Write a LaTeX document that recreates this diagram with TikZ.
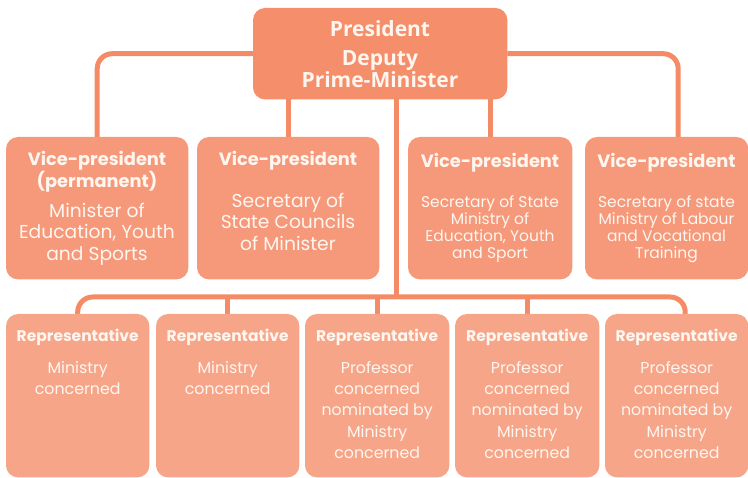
\documentclass[tikz,border=0pt]{standalone}
\usepackage{fontspec}
\setmainfont{Poppins}
\newfontfamily\topfont{Open Sans}
\definecolor{cTop}{HTML}{F58E6A}
\definecolor{cVice}{HTML}{F5997A}
\definecolor{cRep}{HTML}{F6A588}
\definecolor{cLine}{HTML}{F58B66}
\definecolor{cTxt}{HTML}{FFF6F0}
\tikzset{
  box/.style={rounded corners=12pt, inner sep=0pt, anchor=north west, draw=none},
  conn/.style={draw=cLine, line width=5pt, rounded corners=15pt},
  toptxt/.style={text=cTxt, font=\topfont\bfseries\fontsize{21}{22}\selectfont, align=center, inner sep=0pt},
  vtitle/.style={text=cTxt, font=\bfseries\fontsize{17.8}{22}\selectfont, align=center, inner sep=0pt, anchor=north},
  vbody/.style={text=cTxt, font=\fontsize{18.7}{21.5}\selectfont, align=center, inner sep=0pt, anchor=north},
  vbodys/.style={text=cTxt, font=\fontsize{15.5}{17.3}\selectfont, align=center, inner sep=0pt, anchor=north},
  rtitle/.style={text=cTxt, font=\bfseries\fontsize{15.5}{18}\selectfont, align=center, inner sep=0pt, anchor=north},
  rbody/.style={text=cTxt, font=\fontsize{15.8}{21.3}\selectfont, align=center, inner sep=0pt, anchor=north}
}
\begin{document}
\begin{tikzpicture}[x=1pt,y=-1pt]
\useasboundingbox (0,0) rectangle (748,478);
\coordinate (bus) at (396,297);
\node[box, minimum width=254pt, minimum height=91pt] (top) at (253,8) {};
\node[box, minimum width=182pt, minimum height=142pt] (v1) at (6,137) {};
\node[box, minimum width=182pt, minimum height=142pt] (v2) at (197,137) {};
\node[box, minimum width=164pt, minimum height=142pt] (v3) at (408,137) {};
\node[box, minimum width=163pt, minimum height=142pt] (v4) at (585,137) {};
\node[box, minimum width=143pt, minimum height=163pt] (r1) at (6,314) {};
\node[box, minimum width=143pt, minimum height=163pt] (r2) at (156,314) {};
\node[box, minimum width=144pt, minimum height=163pt] (r3) at (305,314) {};
\node[box, minimum width=144pt, minimum height=163pt] (r4) at (455,314) {};
\node[box, minimum width=143pt, minimum height=163pt] (r5) at (605,314) {};
% connectors
\draw[conn] (top.west) -| (v1.north);
\draw[conn] (top.east) -| ([xshift=11.5pt]v4.north);
\draw[conn] (top.south -| v2.north) -- (v2.north);
\draw[conn] (top.south -| v3.north) -- (v3.north);
\draw[conn] (top.south -| bus) -- (bus);
\draw[conn] (r1.north) |- (bus) -| ([xshift=8.5pt]r5.north);
\draw[conn] (r2.north |- bus) -- (r2.north);
\draw[conn] (r3.north |- bus) -- (r3.north);
\draw[conn] (r4.north |- bus) -- (r4.north);
% fills on top of connectors
\fill[cTop, rounded corners=12pt] (top.north west) rectangle (top.south east);
\foreach \n in {v1,v2,v3,v4}{\fill[cVice, rounded corners=12pt] (\n.north west) rectangle (\n.south east);}
\foreach \n in {r1,r2,r3,r4,r5}{\fill[cRep, rounded corners=12pt] (\n.north west) rectangle (\n.south east);}
% texts
\node[toptxt] (topa) at (380,29) {President};
\node[toptxt] (topb) at (380,69) {Deputy\\Prime-Minister};
\node[vtitle] (v1t) at (97,151) {Vice-president\\(permanent)};
\node[vbody] (v1b) at (97,203) {Minister of\\Education, Youth\\and Sports};
\node[vtitle] (v2t) at (288,151) {Vice-president};
\node[vbody] (v2b) at (288,193) {Secretary of\\State Councils\\of Minister};
\node[vtitle] (v3t) at (490,153) {Vice-president};
\node[vbodys] (v3b) at (490,195) {Secretary of State\\Ministry of\\Education, Youth\\and Sport};
\node[vtitle] (v4t) at (666.5,153) {Vice-president};
\node[vbodys] (v4b) at (666.5,195) {Secretary of state\\Ministry of Labour\\and Vocational\\Training};
\foreach \n in {r1,r2,r3,r4,r5}{\node[rtitle] (\n t) at ([yshift=-15pt]\n.north) {Representative};}
\node[rbody] (r1b) at ([yshift=-47pt]r1.north) {Ministry\\concerned};
\node[rbody] (r2b) at ([yshift=-47pt]r2.north) {Ministry\\concerned};
\node[rbody] (r3b) at ([yshift=-47pt]r3.north) {Professor\\concerned\\nominated by\\Ministry\\concerned};
\node[rbody] (r4b) at ([yshift=-47pt]r4.north) {Professor\\concerned\\nominated by\\Ministry\\concerned};
\node[rbody] (r5b) at ([yshift=-47pt]r5.north) {Professor\\concerned\\nominated by\\Ministry\\concerned};
\end{tikzpicture}
\end{document}
